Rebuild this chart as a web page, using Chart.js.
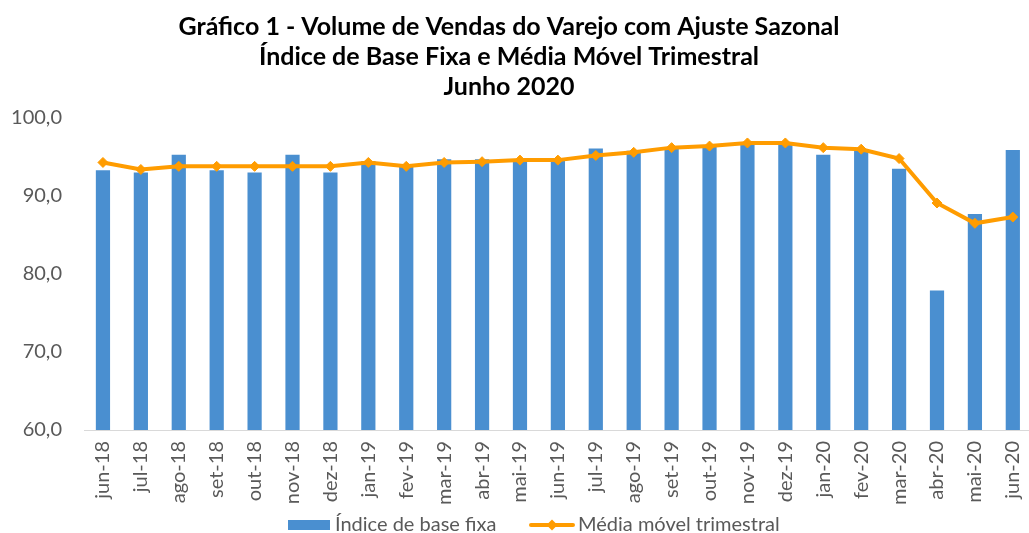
<!DOCTYPE html>
<html>
<head>
<meta charset="utf-8">
<script src="https://cdn.jsdelivr.net/npm/chart.js@4.4.1/dist/chart.umd.min.js"></script>
<style>
  html, body { margin: 0; padding: 0; background: #ffffff; overflow: hidden; }
  #wrap { position: absolute; left: 0; top: 0; width: 1048px; height: 533px; }
</style>
</head>
<body>
<div id="wrap"><canvas id="c"></canvas></div>
<script>
const categories = ['jun-18','jul-18','ago-18','set-18','out-18','nov-18','dez-18','jan-19','fev-19','mar-19','abr-19','mai-19','jun-19','jul-19','ago-19','set-19','out-19','nov-19','dez-19','jan-20','fev-20','mar-20','abr-20','mai-20','jun-20'];
const indiceBaseFixa = [93.3, 93.0, 95.3, 93.3, 93.0, 95.3, 93.0, 94.5, 93.8, 94.7, 94.7, 94.5, 94.7, 96.1, 95.8, 96.1, 96.3, 96.8, 96.7, 95.3, 95.8, 93.5, 77.9, 87.7, 95.9];
const mediaMovel = [94.3, 93.4, 93.8, 93.8, 93.8, 93.8, 93.8, 94.3, 93.8, 94.3, 94.4, 94.6, 94.6, 95.2, 95.6, 96.2, 96.4, 96.8, 96.8, 96.2, 96.0, 94.8, 89.1, 86.5, 87.3];
const yTicks = [60, 70, 80, 90, 100];
const titleLines = ['Gráfico 1 - Volume de Vendas do Varejo com Ajuste Sazonal', 'Índice de Base Fixa e Média Móvel Trimestral', 'Junho 2020'];
const seriesNames = ['Índice de base fixa', 'Média móvel trimestral'];

const BAR_COLOR = '#4a8fd0';
const LINE_COLOR = '#ff9c00';
const FONT = 'Lato';

const overlay = {
  id: 'overlay',
  afterDraw(chart) {
    const ctx = chart.ctx;
    ctx.save();
    // Title
    ctx.fillStyle = '#000000';
    ctx.font = 'bold 25px ' + FONT;
    ctx.textAlign = 'center';
    ctx.textBaseline = 'alphabetic';
    const baselines = [35, 65, 95];
    titleLines.forEach((t, i) => ctx.fillText(t, 509, baselines[i]));
    // Legend
    ctx.font = '20px ' + FONT;
    ctx.textAlign = 'left';
    ctx.fillStyle = BAR_COLOR;
    ctx.fillRect(288, 520, 42, 10);
    ctx.fillStyle = '#595959';
    ctx.fillText(seriesNames[0], 335, 531);
    ctx.strokeStyle = LINE_COLOR;
    ctx.lineWidth = 4;
    ctx.lineCap = 'round';
    ctx.beginPath();
    ctx.moveTo(531, 525);
    ctx.lineTo(573, 525);
    ctx.stroke();
    ctx.fillStyle = LINE_COLOR;
    ctx.beginPath();
    ctx.moveTo(552, 519.5); ctx.lineTo(557.5, 525); ctx.lineTo(552, 530.5); ctx.lineTo(546.5, 525);
    ctx.closePath(); ctx.fill();
    ctx.fillStyle = '#595959';
    ctx.fillText(seriesNames[1], 578, 531);
    ctx.restore();
  }
};

new Chart(document.getElementById('c'), {
  data: {
    labels: categories,
    datasets: [
      {
        type: 'line',
        label: seriesNames[1],
        data: mediaMovel,
        borderColor: LINE_COLOR,
        backgroundColor: LINE_COLOR,
        borderWidth: 4,
        tension: 0,
        pointStyle: 'rectRot',
        pointRadius: 5,
        pointBackgroundColor: LINE_COLOR,
        pointBorderColor: LINE_COLOR,
        pointBorderWidth: 1,
        order: 0
      },
      {
        type: 'bar',
        label: seriesNames[0],
        data: indiceBaseFixa,
        backgroundColor: BAR_COLOR,
        borderWidth: 0,
        categoryPercentage: 1,
        barPercentage: 0.375,
        order: 1
      }
    ]
  },
  options: {
    responsive: true,
    maintainAspectRatio: false,
    animation: false,
    devicePixelRatio: 1,
    layout: { padding: { top: 118, right: 9, bottom: 0, left: 0 } },
    plugins: { legend: { display: false }, title: { display: false }, tooltip: { enabled: false } },
    scales: {
      x: {
        grid: { display: false, drawTicks: false },
        border: { display: true, color: '#d9d9d9', width: 1 },
        ticks: {
          color: '#595959', font: { family: FONT, size: 20 },
          autoSkip: false, minRotation: 90, maxRotation: 90, padding: 11
        },
        afterFit(s) { s.height = 103; }
      },
      y: {
        min: 60, max: 100,
        grid: { display: false, drawTicks: false },
        border: { display: false },
        afterBuildTicks(s) { s.ticks = yTicks.map(v => ({ value: v })); },
        ticks: {
          color: '#595959', font: { family: FONT, size: 20 }, padding: 22,
          callback: v => v.toFixed(1).replace('.', ',')
        },
        afterFit(s) { s.width = 84; }
      }
    }
  },
  plugins: [overlay]
});
</script>
</body>
</html>
